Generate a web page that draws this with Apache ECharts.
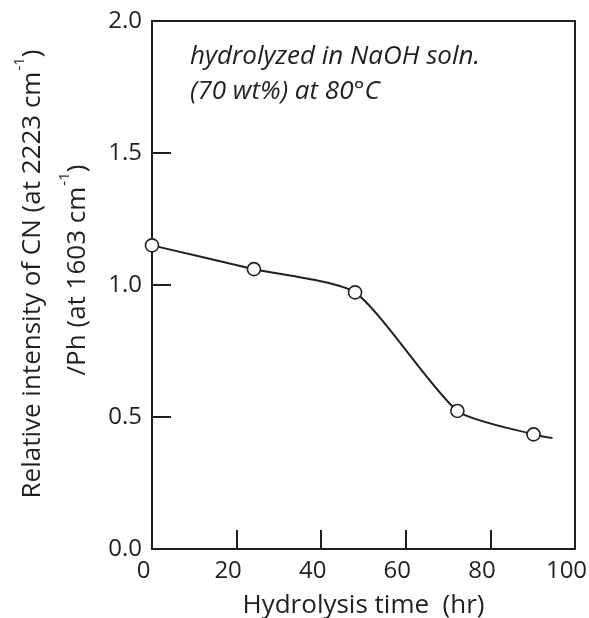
<!DOCTYPE html>
<html>
<head>
<meta charset="utf-8">
<script src="https://cdn.jsdelivr.net/npm/echarts@6/dist/echarts.min.js"></script>
<style>
html,body{margin:0;padding:0;background:#fff;}
#chart{width:589px;height:618px;}
</style>
</head>
<body>
<div id="chart"></div>
<script>
// Measured points
var hours = [0, 24.1, 48, 72.2, 90.2];
var ratio = [1.15, 1.06, 0.972, 0.523, 0.434];
// Fitted curve (passes through points, ends beyond last point)
var curveHours = [0, 24.1, 48, 72.2, 90.2, 94.7];
var curveRatio = [1.15, 1.06, 0.972, 0.523, 0.434, 0.42];
var xTicks = [0, 20, 40, 60, 80, 100];
var yTicks = [0.0, 0.5, 1.0, 1.5, 2.0];

var ink = '#231f20';
var font = 'Open Sans';

var chart = echarts.init(document.getElementById('chart'), null, {renderer: 'canvas'});
var pts = hours.map(function (h, i) { return [h, ratio[i]]; });
var curve = curveHours.map(function (h, i) { return [h, curveRatio[i]]; });

var richTitle = {
  a: {fontFamily: font, fontSize: 26, fill: ink, lineHeight: 34, verticalAlign: 'bottom'},
  s: {fontFamily: font, fontSize: 15, fill: ink, lineHeight: 34, verticalAlign: 'top', padding: [0, 0, 12, 1]}
};

chart.setOption({
  animation: false,
  backgroundColor: '#fff',
  grid: {left: 152, right: 14, top: 21, bottom: 69, show: true, borderColor: ink, borderWidth: 2,
    backgroundColor: 'transparent', containLabel: false, outerBoundsMode: 'none'},
  xAxis: {
    type: 'value', min: 0, max: 100, interval: 20,
    axisLine: {show: true, lineStyle: {color: ink, width: 2}},
    axisTick: {show: true, inside: true, length: 19, lineStyle: {color: ink, width: 2}},
    splitLine: {show: false},
    axisLabel: {color: ink, fontFamily: font, fontSize: 24, margin: 10, padding: [0, 17, 0, 0],
      formatter: function (v) { return xTicks.indexOf(v) >= 0 ? String(v) : ''; }},
    name: 'Hydrolysis time  (hr)', nameLocation: 'middle', nameGap: 44,
    nameTextStyle: {color: ink, fontFamily: font, fontSize: 26}
  },
  yAxis: {
    type: 'value', min: 0, max: 2, interval: 0.5,
    axisLine: {show: true, lineStyle: {color: ink, width: 2}},
    axisTick: {show: true, inside: true, length: 19, lineStyle: {color: ink, width: 2}},
    splitLine: {show: false},
    axisLabel: {color: ink, fontFamily: font, fontSize: 24, margin: 10,
      formatter: function (v) { return v.toFixed(1); }}
  },
  graphic: [
    {type: 'text', x: 190, y: 57, z: 10,
      style: {text: 'hydrolyzed in NaOH soln.', fill: ink, font: 'italic 26px "Open Sans"', verticalAlign: 'middle'}},
    {type: 'text', x: 190, y: 92, z: 10,
      style: {text: '(70 wt%) at 80°C', fill: ink, font: 'italic 26px "Open Sans"', verticalAlign: 'middle'}},
    {type: 'text', x: 29, y: 274, rotation: Math.PI / 2, z: 10,
      style: {text: '{a|Relative intensity of CN (at 2223 cm}{s|-1}{a|)}', align: 'center', verticalAlign: 'middle', rich: richTitle}},
    {type: 'text', x: 74, y: 270, rotation: Math.PI / 2, z: 10,
      style: {text: '{a|/Ph (at 1603 cm}{s|-1}{a|)}', align: 'center', verticalAlign: 'middle', rich: richTitle}}
  ],
  series: [
    {type: 'line', data: curve, smooth: 0.2, showSymbol: false, symbol: 'none',
      lineStyle: {color: ink, width: 2}, z: 2},
    {type: 'scatter', data: pts, symbol: 'circle', symbolSize: 13,
      itemStyle: {color: '#fff', borderColor: ink, borderWidth: 1.6, opacity: 1}, z: 5}
  ]
});
</script>
</body>
</html>
